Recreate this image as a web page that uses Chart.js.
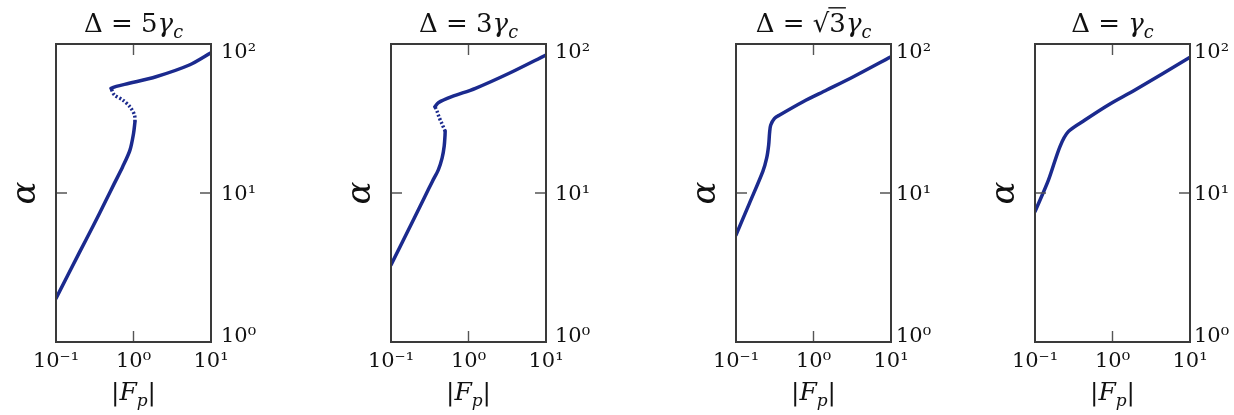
<!DOCTYPE html>
<html lang="en">
<head>
<meta charset="UTF-8">
<title>alpha vs |F_p| for four detunings</title>
<script src="https://cdn.jsdelivr.net/npm/chart.js"></script>
<style>
  body { margin: 0; background: #fff; width: 1234px; height: 415px; overflow: hidden; position: relative; }
  .panel { position: absolute; top: 0; width: 262px; height: 415px; }
</style>
</head>
<body>
<div class="panel" style="left:0px"><canvas id="c0"></canvas></div>
<div class="panel" style="left:335px"><canvas id="c1"></canvas></div>
<div class="panel" style="left:680px"><canvas id="c2"></canvas></div>
<div class="panel" style="left:979px"><canvas id="c3"></canvas></div>
<script>
// axis ticks (log scales)
const xTicks = [0.1, 1, 10];
const xTickLabels = ['10⁻¹', '10⁰', '10¹'];
const yTicks = [1, 10, 100];
const yTickLabels = ['10⁰', '10¹', '10²'];

// Δ = 5γc : lower stable, unstable (dotted), upper stable
const f5Low = [0.1, 0.2, 0.3, 0.44, 0.566, 0.725, 0.9, 1.0, 1.045];
const a5Low = [1.96, 3.98, 5.98, 8.9, 11.6, 15.0, 19.4, 25.0, 30.1];
const f5Mid = [1.045, 1.03, 0.9, 0.725, 0.566, 0.513];
const a5Mid = [30.1, 33.4, 37.9, 42.1, 45.5, 50.4];
const f5High = [0.513, 0.6, 0.88, 1.95, 5.25, 10];
const a5High = [50.4, 52.0, 54.5, 60.3, 72.3, 87.4];

// Δ = 3γc
const f3Low = [0.1, 0.2, 0.272, 0.343, 0.408, 0.457, 0.486, 0.498, 0.5];
const a3Low = [3.29, 6.8, 9.4, 12.0, 14.3, 17.2, 20.7, 24.5, 26.0];
const f3Mid = [0.5, 0.451, 0.415, 0.391, 0.368];
const a3Mid = [26.0, 29.4, 32.5, 35.7, 37.9];
const f3High = [0.368, 0.408, 0.608, 1.23, 3.35, 10];
const a3High = [37.9, 40.4, 44.3, 50.4, 63.6, 84.4];

// Δ = √3γc
const fR3 = [0.1, 0.149, 0.222, 0.249, 0.264, 0.271, 0.28, 0.314, 0.366, 0.734, 1.48, 3.27, 10];
const aR3 = [5.23, 8.52, 13.96, 17.2, 21.0, 25.2, 28.5, 31.7, 33.4, 41.0, 49.1, 60.3, 82.2];

// Δ = γc
const f1 = [0.1, 0.149, 0.21, 0.269, 0.441, 0.883, 1.95, 10];
const a1 = [7.5, 12.2, 20.5, 25.8, 30.9, 39.0, 49.1, 81.4];

const panelTitles = [
  [{t: 'Δ = 5'}, {t: 'γ', it: 1}, {t: 'c', it: 1, sub: 1}],
  [{t: 'Δ = 3'}, {t: 'γ', it: 1}, {t: 'c', it: 1, sub: 1}],
  [{t: 'Δ = √'}, {t: '3', bar: 1}, {t: 'γ', it: 1}, {t: 'c', it: 1, sub: 1}],
  [{t: 'Δ = '}, {t: 'γ', it: 1}, {t: 'c', it: 1, sub: 1}]
];
const xTitle = [{t: '|'}, {t: 'F', it: 1}, {t: 'p', it: 1, sub: 1}, {t: '|'}];
const yTitle = 'α';

const LINE = '#1b2a8e';
const TEXT = '#111';
const FAMILY = 'DejaVu Serif';

function mathFont(p, size) {
  const s = p.sub ? size * 0.68 : size;
  return (p.it ? 'italic ' : '') + s + 'px "' + FAMILY + '"';
}

function drawMath(ctx, parts, cx, base, size) {
  let w = 0;
  parts.forEach(p => { ctx.font = mathFont(p, size); p.w = ctx.measureText(p.t).width; w += p.w; });
  let x = cx - w / 2;
  ctx.fillStyle = TEXT;
  ctx.strokeStyle = TEXT;
  ctx.textBaseline = 'alphabetic';
  ctx.textAlign = 'left';
  parts.forEach(p => {
    ctx.font = mathFont(p, size);
    const y = base + (p.sub ? size * 0.22 : 0);
    ctx.fillText(p.t, x, y);
    if (p.bar) {
      ctx.lineWidth = 1.4;
      ctx.beginPath();
      ctx.moveTo(x - 1, base - size * 0.93);
      ctx.lineTo(x + p.w, base - size * 0.93);
      ctx.stroke();
    }
    x += p.w;
  });
}

const framePlugin = {
  id: 'frame',
  afterDatasetsDraw(chart, args, opts) {
    const {ctx, chartArea: a, scales: {x, y}} = chart;
    ctx.save();
    ctx.strokeStyle = '#555';
    ctx.lineWidth = 1.4;
    const tl = 11;
    ctx.beginPath();
    xTicks.slice(1, -1).forEach(v => {
      const px = x.getPixelForValue(v);
      ctx.moveTo(px, a.top); ctx.lineTo(px, a.top + tl);
      ctx.moveTo(px, a.bottom); ctx.lineTo(px, a.bottom - tl);
    });
    yTicks.slice(1, -1).forEach(v => {
      const py = y.getPixelForValue(v);
      ctx.moveTo(a.left, py); ctx.lineTo(a.left + tl, py);
      ctx.moveTo(a.right, py); ctx.lineTo(a.right - tl, py);
    });
    ctx.stroke();
    ctx.strokeStyle = '#3a3a3a';
    ctx.lineWidth = 2;
    ctx.strokeRect(a.left, a.top, a.right - a.left, a.bottom - a.top);
    const cx = (a.left + a.right) / 2;
    drawMath(ctx, opts.title, cx, 32, 26);
    drawMath(ctx, xTitle, cx, 400, 25);
    ctx.restore();
  }
};

function series(fs, as, dashed) {
  return {
    data: fs.map((f, i) => ({x: f, y: as[i]})),
    showLine: true,
    borderColor: LINE,
    backgroundColor: LINE,
    borderWidth: 3.5,
    pointRadius: 0,
    tension: 0.3,
    borderDash: dashed ? [2, 2] : [],
    borderCapStyle: dashed ? 'butt' : 'round'
  };
}

function makeChart(id, datasets, title, yPad) {
  new Chart(document.getElementById(id), {
    type: 'scatter',
    data: {datasets},
    plugins: [framePlugin],
    options: {
      responsive: true,
      maintainAspectRatio: false,
      animation: false,
      layout: {padding: {left: 0, top: 44, right: 0, bottom: 0}},
      plugins: {legend: {display: false}, tooltip: {enabled: false}, frame: {title}},
      scales: {
        x: {
          type: 'logarithmic', position: 'bottom', min: 0.1, max: 10,
          grid: {display: false, drawTicks: false}, border: {display: false},
          afterBuildTicks: s => { s.ticks = xTicks.map(v => ({value: v})); },
          afterFit: s => { s.height = 73; },
          ticks: {
            autoSkip: false, maxRotation: 0, padding: 7, color: TEXT,
            font: {family: FAMILY, size: 21},
            callback: (v, i) => xTickLabels[i]
          }
        },
        y: {
          type: 'logarithmic', position: 'right', min: 1, max: 100,
          grid: {display: false, drawTicks: false}, border: {display: false},
          afterBuildTicks: s => { s.ticks = yTicks.map(v => ({value: v})); },
          afterFit: s => { s.width = 51; },
          ticks: {
            autoSkip: false, padding: yPad, color: TEXT,
            font: c => ({family: FAMILY, size: 21, lineHeight: ['10px', '4px', '18px'][c.index]}),
            callback: (v, i) => i === 0 ? [yTickLabels[i], ''] : ['', yTickLabels[i]]
          }
        },
        yl: {
          type: 'linear', position: 'left', min: 0, max: 1,
          grid: {display: false}, border: {display: false},
          ticks: {display: false},
          afterFit: s => { s.width = 56; },
          title: {
            display: true, text: yTitle, color: TEXT,
            font: {family: FAMILY, style: 'italic', size: 34},
            padding: {top: 6, bottom: 0}
          }
        }
      }
    }
  });
}

makeChart('c0', [series(f5Low, a5Low), series(f5Mid, a5Mid, true), series(f5High, a5High)], panelTitles[0], 10);
makeChart('c1', [series(f3Low, a3Low), series(f3Mid, a3Mid, true), series(f3High, a3High)], panelTitles[1], 9);
makeChart('c2', [series(fR3, aR3)], panelTitles[2], 5);
makeChart('c3', [series(f1, a1)], panelTitles[3], 4);
</script>
</body>
</html>
